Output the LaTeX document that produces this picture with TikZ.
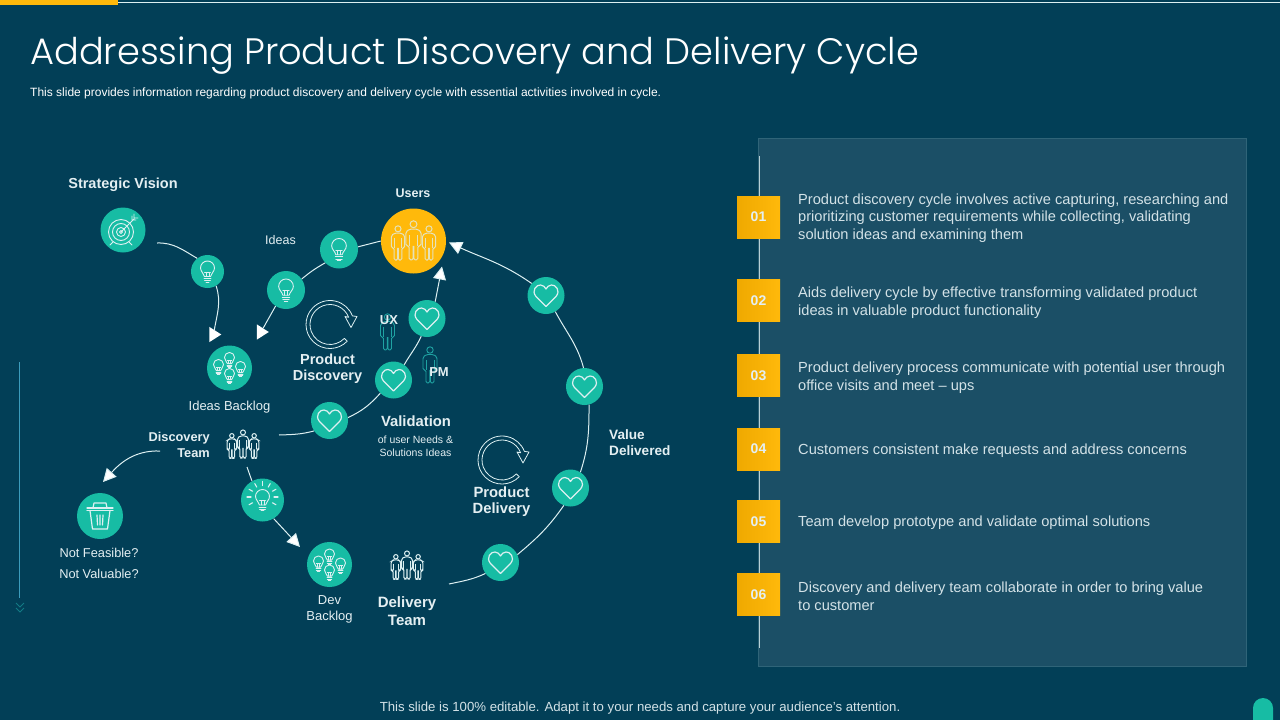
\documentclass[tikz,border=0pt]{standalone}
\usepackage{fontspec}
\setmainfont{Liberation Sans}
\newfontfamily\headfont{Poppins}[UprightFont=* Light]
\usetikzlibrary{positioning,arrows.meta,shapes.geometric,calc}
\definecolor{slidebg}{HTML}{023F57}
\definecolor{panelbg}{HTML}{1B4F66}
\definecolor{panelrim}{HTML}{2F6478}
\definecolor{discteal}{HTML}{17BCA4}
\definecolor{sunny}{HTML}{FFB90B}
\definecolor{sunnylow}{HTML}{EFA900}
\definecolor{lineice}{HTML}{DDF0F2}
\definecolor{textice}{HTML}{E4EFF2}
\definecolor{textdim}{HTML}{D3E2E7}
\definecolor{figteal}{HTML}{1FA3A3}
\definecolor{sideblue}{HTML}{3C9CBC}
\tikzset{
  link/.style={line width=1pt,draw=lineice},
  tipped/.style={link,-{Triangle[width=13pt,length=13pt,fill=white]}},
  tiphead/.style={shape=isosceles triangle,isosceles triangle apex angle=65,fill=white,inner sep=0pt,minimum height=12pt},
  disc/.style={shape=circle,fill=discteal,inner sep=0pt,minimum size=#1},
  lbl/.style={text=textice,align=center,font=\fontsize{13}{16}\selectfont},
  boldlbl/.style={text=textice,align=center,font=\fontsize{14.5}{16}\selectfont\bfseries},
  numbox/.style={shape=rectangle,left color=sunnylow,right color=sunny,minimum width=43pt,minimum height=42pt,inner sep=0pt,text=textice,font=\fontsize{14}{16}\selectfont\bfseries},
  point/.style={text=textdim,align=left,anchor=west,inner sep=0pt,font=\fontsize{14.63}{17.6}\selectfont},
  icon/.style={draw=lineice,line width=.9pt,line cap=round,line join=round},
  pics/bulb/.style={code={
    \draw[icon] (-3,5) .. controls (-3.5,2) and (-7,0) .. (-7,-3.5) arc[start angle=180,end angle=360,radius=7] .. controls (7,0) and (3.5,2) .. (3,5) -- cycle;
    \draw[icon] (-3.5,7) -- (3.5,7) (-3,9) -- (3,9) (-1.5,10.5) -- (1.5,10.5);
    \draw[icon] (-1.5,5) -- (-1.5,1) (1.5,5) -- (1.5,1) (-3,0.5) -- (3,0.5);
  }},
  pics/manybulbs/.style={code={
    \pic[scale=.72] at (0,-8) {bulb};
    \pic[scale=.72] at (-11,-1) {bulb};
    \pic[scale=.72] at (11,1) {bulb};
    \pic[scale=.72] at (0,8) {bulb};
  }},
  pics/heart/.style={code={
    \draw[icon,line width=1.2pt] (0,11) -- (-10,1) .. controls (-15,-5) and (-9.5,-11) .. (-5.5,-10.5) .. controls (-3,-10.5) and (-1,-8.5) .. (0,-6.5) .. controls (1,-8.5) and (3,-10.5) .. (5.5,-10.5) .. controls (9.5,-11) and (15,-5) .. (10,1) -- cycle;
  }},
  pics/brightbulb/.style={code={
    \pic at (0,0) {bulb};
    \foreach \a in {150,180,210,240,270,300,330,0,30}
      \draw[icon,line width=1.1pt] ($(0,-3)+(\a:11.5)$) -- ($(0,-3)+(\a:15.5)$);
  }},
  pics/target/.style={code={
    \draw[icon] (-2,2) circle[radius=12.5] (-2,2) circle[radius=8.5] (-2,2) circle[radius=4.5] (-2,2) circle[radius=1.5];
    \draw[icon] (-2,2) -- (11,-11) (9,-14) -- (9,-10) -- (13,-10) (11,-16) -- (11,-12) -- (15,-12);
    \draw[icon] (-10,12) -- (-13,15) (6,12) -- (9,15);
  }},
  pics/trash/.style={code={
    \draw[icon,line width=1.2pt] (-13,-8) -- (13,-8) (-13,-5.5) -- (13,-5.5);
    \draw[icon,line width=1.2pt] (-7,-8) -- (-6,-13) -- (6,-13) -- (7,-8);
    \draw[icon,line width=1.2pt] (-10,-5.5) -- (-7.5,13) -- (7.5,13) -- (10,-5.5);
    \draw[icon,line width=1.2pt] (-3,-1) -- (-2.5,9) (0,-1) -- (0,9) (3,-1) -- (2.5,9);
  }},
  pics/person/.style={code={
    \draw[pic actions] (0,3) circle[radius=3.2];
    \draw[pic actions,rounded corners=1.5pt] (-0.3,23) -- (-0.3,36) -- (-4,36) -- (-4,23) -- (-7,23) -- (-7,10) -- (-3.5,7.5) -- (3.5,7.5) -- (7,10) -- (7,23) -- (4,23) -- (4,36) -- (0.3,36) -- (0.3,23);
    \draw[pic actions] (-4,13) -- (-4,23) (4,13) -- (4,23);
  }},
  pics/trio/.style={code={
    \pic[transform shape,scale=1.08,draw=#1,line width=1pt] at (0,-20) {person};
    \pic[transform shape,scale=.95,draw=#1,line width=1pt] at (-15.5,-15) {person};
    \pic[transform shape,scale=.95,draw=#1,line width=1pt] at (15.5,-15) {person};
  }},
  pics/cycle/.style={code={
    \draw[icon,line width=.8pt] (44:20) -- (44:24) arc[start angle=44,end angle=339,radius=24] -- (27,-8) -- (21,3) -- (15,-8) -- (339:20) arc[start angle=339,end angle=44,radius=20] -- cycle;
  }}
}
\begin{document}
\begin{tikzpicture}[x=1pt,y=-1pt]
  \useasboundingbox (0,0) rectangle (1280,720);
  \fill[slidebg] (0,0) rectangle (1280,720);
  \fill[lineice] (118,1.5) rectangle (1280,3);
  \fill[sunny] (0,0) rectangle (118,5);
  \fill[discteal] (1253,720) -- (1253,708) arc[start angle=180,end angle=360,radius=10] -- (1273,720) -- cycle;
  \fill[sideblue] (18.5,362) rectangle (19.7,598);
  \draw[figteal!60!slidebg,line width=1pt] (16,603) -- (20,607) -- (24,603) (16,608) -- (20,612) -- (24,608);

  \node[anchor=west,inner sep=0pt,text=white,font=\fontsize{36.8}{40}\headfont] (title) at (30,56) {Addressing Product Discovery and Delivery Cycle};
  \node[anchor=west,inner sep=0pt,text=white,font=\fontsize{12}{14}\selectfont] (subtitle) at (30,93.5) {This slide provides information regarding product discovery and delivery cycle with essential activities involved in cycle.};
  \node[text=textdim,inner sep=0pt,font=\fontsize{13.2}{14}\selectfont] (footer) at (640,708) {This slide is 100\% editable. Adapt it to your needs and capture your audience's attention.};

  \draw[panelrim,fill=panelbg,line width=1pt] (758,138) rectangle (1246,666);
  \draw[lineice!80!panelbg,line width=1pt] (759,156) -- (759,648);
  \node[numbox] (n1) at (758.5,217) {01};
  \node[numbox] (n2) at (758.5,300.5) {02};
  \node[numbox] (n3) at (758.5,375.5) {03};
  \node[numbox] (n4) at (758.5,449) {04};
  \node[numbox] (n5) at (758.5,521.5) {05};
  \node[numbox] (n6) at (758.5,594.5) {06};
  \node[point] (p1) at (798,218) {Product discovery cycle involves active capturing, researching and\\prioritizing customer requirements while collecting, validating\\solution ideas and examining them};
  \node[point] (p2) at (798,302.5) {Aids delivery cycle by effective transforming validated product\\ideas in valuable product functionality};
  \node[point] (p3) at (798,377.5) {Product delivery process communicate with potential user through\\office visits and meet -- ups};
  \node[point] (p4) at (798,450.5) {Customers consistent make requests and address concerns};
  \node[point] (p5) at (798,522.5) {Team develop prototype and validate optimal solutions};
  \node[point] (p6) at (798,596) {Discovery and delivery team collaborate in order to bring value\\to customer};

  \node[disc=45pt] (vision) at (123,230) {};
  \node[disc=33pt] (bulb1) at (207.5,271.5) {};
  \node[disc=45pt] (ideas) at (229.5,368) {};
  \node[disc=65pt,fill=sunny] (users) at (413.5,241) {};
  \node[disc=38pt] (bulb2) at (339,249.5) {};
  \node[disc=38pt] (bulb3) at (286,290) {};
  \node[disc=37pt] (heart1) at (546,295.5) {};
  \node[disc=37pt] (heart2) at (584.5,386.5) {};
  \node[disc=37pt] (heart3) at (570.5,488) {};
  \node[disc=37pt] (heart4) at (500.5,562.5) {};
  \node[disc=37pt] (check1) at (427,318.5) {};
  \node[disc=37pt] (check2) at (393.5,380) {};
  \node[disc=37pt] (check3) at (329.5,420.5) {};
  \node[disc=43pt] (spark) at (262.5,500) {};
  \node[disc=45pt] (dev) at (329.5,564.5) {};
  \node[disc=46pt] (bin) at (100,516) {};

  \node[tiphead] (tipA) at (213.5,334.5) {};
  \node[tiphead] (tipB) at (261,332) {};
  \coordinate (visionout) at (157,243);
  \coordinate (usersin) at (449,242.5);
  \coordinate (usersup) at (442,266.5);
  \coordinate (checkout) at (279,435);
  \coordinate (deliveryout) at (449,584);
  \coordinate (teamout) at (160,451);
  \coordinate (teamdown) at (247,467);
  \coordinate (binin) at (103,482);
  \coordinate (devin) at (300,547);

  \draw[link] (visionout) to[out=2,in=150] (bulb1.128);
  \draw[link] (bulb1.-59) to[out=-72,in=80] (tipA.80);
  \draw[link] (users.180) -- (bulb2.8);
  \draw[link] (bulb2.224) to[bend right=5] (bulb3.35);
  \draw[link] (bulb3.237) -- (tipB);
  \draw[link] (deliveryout) to[out=12,in=205] (heart4.216);
  \draw[link] (heart4.25) to[out=40,in=235] (heart3.249);
  \draw[link] (heart3.58) to[out=72,in=-90] (heart2.-76);
  \draw[link] (heart2.93) to[out=105,in=-62] (heart1.-60);
  \draw[tipped] (heart1.140) to[out=145,in=-25] (usersin);
  \draw[link] (checkout) to[out=2,in=195] (check3.214);
  \draw[link] (check3.9) to[out=25,in=228] (check2.225);
  \draw[link] (check2.55) to[out=60,in=245] (check1.252);
  \draw[tipped] (check1.64) -- (usersup);
  \draw[tipped] (teamout) to[out=178,in=48] (binin);
  \draw[link] (teamdown) -- (spark.119);
  \draw[tipped] (spark.-59) -- (devin);

  \pic at (vision) {target};
  \pic at (bulb1) {bulb};
  \pic[scale=1.05] at (bulb2) {bulb};
  \pic[scale=1.05] at (bulb3) {bulb};
  \pic at (ideas) {manybulbs};
  \pic at (dev) {manybulbs};
  \pic at (users) {trio=lineice!75!sunny};
  \pic at (heart1) {heart};
  \pic at (heart2) {heart};
  \pic at (heart3) {heart};
  \pic at (heart4) {heart};
  \pic at (check1) {heart};
  \pic at (check2) {heart};
  \pic at (check3) {heart};
  \pic at (spark) {brightbulb};
  \pic at (bin) {trash};
  \pic[scale=.72] at (243,444.5) {trio=lineice};
  \pic[scale=.72] at (407,565.5) {trio=lineice};
  \pic at (330,324.5) {cycle};
  \pic at (502,460) {cycle};
  \pic[draw=figteal,line width=.9pt] at (387.5,314) {person};
  \pic[draw=figteal,line width=.9pt] at (430,347) {person};

  \node[boldlbl] (visionlbl) at (123,185) {Strategic Vision};
  \node[boldlbl,font=\fontsize{12.5}{15}\selectfont\bfseries] (userslbl) at (413,193) {Users};
  \node[lbl,font=\fontsize{12.5}{15}\selectfont] (ideaslbl) at (280.5,240.5) {Ideas};
  \node[lbl,below=7pt of ideas] (backloglbl) {Ideas Backlog};
  \node[boldlbl] (discoverylbl) at (327.5,369) {Product\\Discovery};
  \node[boldlbl,font=\fontsize{13}{15}\selectfont\bfseries] (uxlbl) at (389,320) {UX};
  \node[boldlbl,font=\fontsize{13}{15}\selectfont\bfseries] (pmlbl) at (439,372) {PM};
  \node[boldlbl,font=\fontsize{14.8}{16}\selectfont\bfseries] (validationlbl) at (416,421.5) {Validation};
  \node[lbl,font=\fontsize{10.5}{13}\selectfont] (validsub) at (415.5,446) {of user Needs \&\\Solutions Ideas};
  \node[boldlbl,font=\fontsize{14.8}{16}\selectfont\bfseries] (deliverylbl) at (501.5,502) {Product\\Delivery};
  \node[boldlbl,font=\fontsize{13.6}{16}\selectfont\bfseries,anchor=west,align=left,inner sep=0pt] (valuelbl) at (609,442.5) {Value\\Delivered};
  \node[boldlbl,font=\fontsize{12.8}{16}\selectfont\bfseries,anchor=east,align=right,inner sep=0pt] (teamlbl) at (210,445) {Discovery\\Team};
  \node[lbl,font=\fontsize{12.8}{21}\selectfont] (binlbl) at (99,563.5) {Not Feasible?\\Not Valuable?};
  \node[lbl] (devlbl) at (329.5,609) {Dev\\Backlog};
  \node[boldlbl,font=\fontsize{15}{18}\selectfont\bfseries] (teamlbl2) at (407,611) {Delivery\\Team};
\end{tikzpicture}
\end{document}
